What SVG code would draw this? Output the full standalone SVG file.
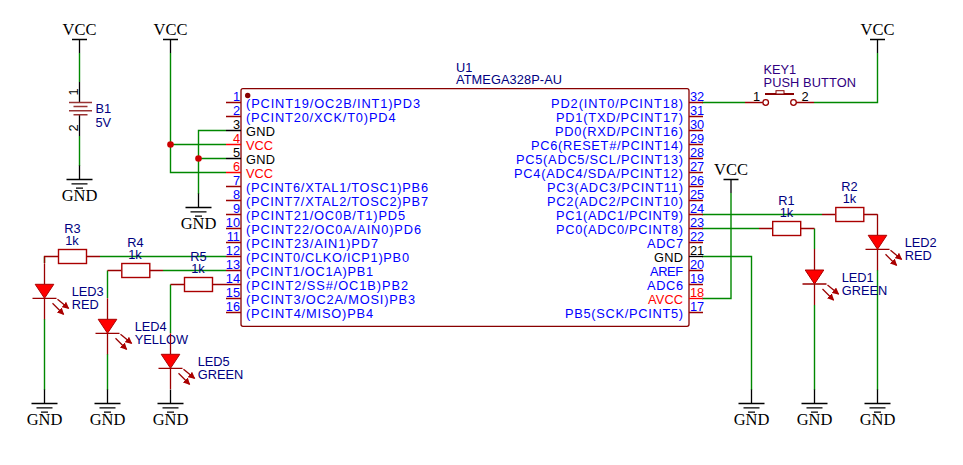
<svg xmlns="http://www.w3.org/2000/svg" width="963" height="465" viewBox="0 0 963 465">
<style>
text{font-family:"Liberation Sans",Arial,sans-serif;font-size:12.8px}
.blue{fill:#0000ff}.blk{fill:#000}.redt{fill:#ff0000}
.lbl{fill:#000080}
.key{fill:#300080}
.pw{font-family:"Liberation Serif","Times New Roman",serif;font-size:16.5px;fill:#000;text-anchor:middle}
.wire{fill:none;stroke:#008800;stroke-width:1.4}
.line{fill:none;stroke:#990000;stroke-width:1.3}
.plate{fill:none;stroke:#993333;stroke-width:1.6}
.box{fill:#fff;stroke:#aa0000;stroke-width:1.4}
.pk{fill:none;stroke:#000;stroke-width:1.3}
.pr{fill:none;stroke:#ff0000;stroke-width:1.3}
.e{text-anchor:end}.m{text-anchor:middle}
.dot{fill:#cc0000}
.led{fill:#ff0000;stroke:#aa0000;stroke-width:1}
.ar{fill:none;stroke:#990000;stroke-width:1.3;marker-end:url(#ah)}
</style>
<defs>
<marker id="ah" markerUnits="userSpaceOnUse" markerWidth="7" markerHeight="7" refX="6" refY="3.500" orient="auto"><path d="M0 0L7 3.500L0 7z" fill="#aa0000"/></marker>
<g id="vcc"><path class="pk" d="M-7.500 0H7.500M0 0V13.500"/><text class="pw" y="-4.500">VCC</text></g>
<g id="gnd"><path class="pk" d="M0 -14V0M-13 0H13M-8 4.300H8M-3.500 8.600H3.500"/><text class="pw" y="21.700">GND</text></g>
<g id="ledsym"><path class="line" d="M0 -35V-14M0 0V21M-12 0H12"/><path class="led" d="M-9.300 -14H9.300L0 0z"/><path class="ar" d="M13 1L24 10"/><path class="ar" d="M8 5L19 16"/></g>
<g id="rs"><rect class="box" x="-14" y="-7" width="28" height="14"/></g>
</defs>
<g id="connectors">
<path class="wire" d="M79.500 53V82M79.500 136V166"/>
<path class="wire" d="M170.500 53V172.500H226M170.500 144.500H226M226 130.500H198.500V194M198.500 158.500H226"/>
<path class="wire" d="M100 256.500H226M44.500 256.500V263M44.500 319V390"/>
<path class="wire" d="M163 270.500H226M107.500 270.500V298M107.500 354V390"/>
<path class="wire" d="M170.500 284.500V333"/>
<path class="wire" d="M702 102.500H745M814 102.500H877.500V53"/>
<path class="wire" d="M702 214.500H822M702 228.500H759M731 193V298.500H702M702 256.500H751.500V390"/>
<path class="wire" d="M814.500 228.500V249M814.500 305V390M877.500 270V390"/>
<path class="line" d="M58 256.500H44.500V263M86 256.500H100M121 270.500H107.500M149 270.500H163M184 284.500H170.500M212 284.500H226M745 102.500H763M796 102.500H814M759 228.500H772M801 228.500H814.500M822 214.500H835M864 214.500H877.500"/>
</g>
<g id="U1">
<rect x="241" y="88.700" width="448" height="237.600" rx="2" fill="#fff" stroke="#880000" stroke-width="1.300"/>
<circle cx="247.700" cy="95.500" r="2.700" fill="#880000"/>
<text x="456" y="72" class="lbl">U1</text>
<text x="456" y="84" class="lbl" textLength="106">ATMEGA328P-AU</text>
<path class="line" d="M226 102.500H241M226 116.500H241M226 186.500H241M226 200.500H241M226 214.500H241M226 228.500H241M226 242.500H241M226 256.500H241M226 270.500H241M226 284.500H241M226 298.500H241M226 312.500H241"/>
<path class="pk" d="M226 130.500H241M226 158.500H241"/><path class="pr" d="M226 144.500H241M226 172.500H241"/>
<path class="line" d="M689 102.500H703M689 116.500H703M689 130.500H703M689 144.500H703M689 158.500H703M689 172.500H703M689 186.500H703M689 200.500H703M689 214.500H703M689 228.500H703M689 242.500H703M689 270.500H703M689 284.500H703M689 312.500H703"/>
<path class="pk" d="M689 256.500H703"/><path class="pr" d="M689 298.500H703"/>
<g class="blue">
<text x="240" y="101" class="e blue">1</text><text x="240" y="115" class="e blue">2</text><text x="240" y="129" class="e blk">3</text><text x="240" y="143" class="e redt">4</text><text x="240" y="157" class="e blk">5</text><text x="240" y="171" class="e redt">6</text><text x="240" y="185" class="e blue">7</text><text x="240" y="199" class="e blue">8</text><text x="240" y="213" class="e blue">9</text><text x="240" y="227" class="e blue">10</text><text x="240" y="241" class="e blue">11</text><text x="240" y="255" class="e blue">12</text><text x="240" y="269" class="e blue">13</text><text x="240" y="283" class="e blue">14</text><text x="240" y="297" class="e blue">15</text><text x="240" y="311" class="e blue">16</text>
<text x="690" y="101">32</text><text x="690" y="115">31</text><text x="690" y="129">30</text><text x="690" y="143">29</text><text x="690" y="157">28</text><text x="690" y="171">27</text><text x="690" y="185">26</text><text x="690" y="199">25</text><text x="690" y="213">24</text><text x="690" y="227">23</text><text x="690" y="241">22</text><text x="690" y="255" class="blk">21</text><text x="690" y="269">20</text><text x="690" y="283">19</text><text x="690" y="297" class="redt">18</text><text x="690" y="311">17</text>
<text x="246" y="108" textLength="174">(PCINT19/OC2B/INT1)PD3</text>
<text x="246" y="122" textLength="149.500">(PCINT20/XCK/T0)PD4</text>
<text x="246" y="136" class="blk" textLength="29">GND</text><text x="246" y="150" class="redt" textLength="27">VCC</text><text x="246" y="164" class="blk" textLength="29">GND</text><text x="246" y="178" class="redt" textLength="27">VCC</text>
<text x="246" y="192" textLength="182">(PCINT6/XTAL1/TOSC1)PB6</text>
<text x="246" y="206" textLength="182">(PCINT7/XTAL2/TOSC2)PB7</text>
<text x="246" y="220" textLength="159">(PCINT21/OC0B/T1)PD5</text>
<text x="246" y="234" textLength="175">(PCINT22/OC0A/AIN0)PD6</text>
<text x="246" y="248" textLength="132">(PCINT23/AIN1)PD7</text>
<text x="246" y="262" textLength="163">(PCINT0/CLKO/ICP1)PB0</text>
<text x="246" y="276" textLength="127">(PCINT1/OC1A)PB1</text>
<text x="246" y="290" textLength="162">(PCINT2/SS#/OC1B)PB2</text>
<text x="246" y="304" textLength="169">(PCINT3/OC2A/MOSI)PB3</text>
<text x="246" y="318" textLength="127">(PCINT4/MISO)PB4</text>
<text x="551" y="108" textLength="132">PD2(INT0/PCINT18)</text>
<text x="556" y="122" textLength="127">PD1(TXD/PCINT17)</text>
<text x="555" y="136" textLength="128">PD0(RXD/PCINT16)</text>
<text x="531" y="150" textLength="152">PC6(RESET#/PCINT14)</text>
<text x="516" y="164" textLength="167">PC5(ADC5/SCL/PCINT13)</text>
<text x="514" y="178" textLength="169">PC4(ADC4/SDA/PCINT12)</text>
<text x="547" y="192" textLength="136">PC3(ADC3/PCINT11)</text>
<text x="547" y="206" textLength="136">PC2(ADC2/PCINT10)</text>
<text x="556" y="220" textLength="127">PC1(ADC1/PCINT9)</text>
<text x="556" y="234" textLength="127">PC0(ADC0/PCINT8)</text>
<text x="647" y="248" textLength="36">ADC7</text>
<text x="654" y="262" class="blk" textLength="29">GND</text>
<text x="650" y="276" textLength="33">AREF</text>
<text x="647" y="290" textLength="36">ADC6</text>
<text x="648" y="304" class="redt" textLength="35">AVCC</text>
<text x="565" y="318" textLength="118">PB5(SCK/PCINT5)</text>
</g>
</g>
<g id="VCC1"><use href="#vcc" x="79.500" y="39.500"/></g>
<g id="VCC2"><use href="#vcc" x="170.500" y="39.500"/></g>
<g id="VCC3"><use href="#vcc" x="877.500" y="39.500"/></g>
<g id="VCC4"><use href="#vcc" x="731" y="179.500"/></g>
<g id="GND1"><use href="#gnd" x="79.500" y="179.500"/></g>
<g id="GND2"><use href="#gnd" x="198.500" y="207.500"/></g>
<g id="GND3"><use href="#gnd" x="44.500" y="403.500"/></g>
<g id="GND4"><use href="#gnd" x="107.500" y="403.500"/></g>
<g id="GND5"><use href="#gnd" x="170.500" y="403.500"/></g>
<g id="GND6"><use href="#gnd" x="751.500" y="403.500"/></g>
<g id="GND7"><use href="#gnd" x="814.500" y="403.500"/></g>
<g id="GND8"><use href="#gnd" x="877.500" y="403.500"/></g>
<g id="B1">
<path class="pk" d="M79.500 82V102.500M79.500 115V136"/>
<path class="plate" d="M69 102.500H92M73.500 106.500H87.500M69 110.700H92M73.500 114.800H87.500"/>
<text class="blk m" transform="translate(78 92) rotate(-90)">1</text>
<text class="blk m" transform="translate(78 128) rotate(-90)">2</text>
<text x="95.500" y="113" class="lbl">B1</text><text x="95.500" y="127" class="lbl">5V</text>
</g>
<g id="KEY1">
<path d="M765 94H794" fill="none" stroke="#880000" stroke-width="2"/><rect x="776" y="90.700" width="8" height="3.300" fill="#fff" stroke="#880000"/><circle cx="765.700" cy="102.500" r="2.800" fill="#fff" stroke="#990000" stroke-width="1.300"/><circle cx="793.500" cy="102.500" r="2.800" fill="#fff" stroke="#990000" stroke-width="1.300"/>
<text x="753" y="100.700" class="blk">1</text><text x="801.500" y="100.700" class="blk">2</text>
<text x="763.500" y="74" class="key">KEY1</text><text x="763.500" y="87" class="key" textLength="92.500">PUSH BUTTON</text>
</g>
<g id="R1"><use href="#rs" x="786.700" y="228.500"/><text x="786.500" y="205" class="m lbl">R1</text><text x="786.500" y="217" class="m lbl">1k</text></g>
<g id="R2"><use href="#rs" x="849.800" y="214.500"/><text x="849.500" y="191" class="m lbl">R2</text><text x="849.500" y="203" class="m lbl">1k</text></g>
<g id="R3"><use href="#rs" x="72.500" y="256.500"/><text x="72.500" y="233" class="m lbl">R3</text><text x="72" y="245" class="m lbl">1k</text></g>
<g id="R4"><use href="#rs" x="135.800" y="270.500"/><text x="135.500" y="247" class="m lbl">R4</text><text x="135" y="259" class="m lbl">1k</text></g>
<g id="R5"><use href="#rs" x="198.500" y="284.500"/><text x="198.500" y="261" class="m lbl">R5</text><text x="198" y="273" class="m lbl">1k</text></g>
<g id="LED1"><use href="#ledsym" x="814.500" y="284"/><text x="841.700" y="282" class="lbl">LED1</text><text x="841.700" y="295" class="lbl">GREEN</text></g>
<g id="LED2"><use href="#ledsym" x="877.500" y="249.300"/><text x="904.700" y="247" class="lbl">LED2</text><text x="904.700" y="260" class="lbl">RED</text></g>
<g id="LED3"><use href="#ledsym" x="44.500" y="298.300"/><text x="71.700" y="296" class="lbl">LED3</text><text x="71.700" y="309" class="lbl">RED</text></g>
<g id="LED4"><use href="#ledsym" x="107.500" y="333.300"/><text x="134.700" y="331" class="lbl">LED4</text><text x="134.700" y="344" class="lbl">YELLOW</text></g>
<g id="LED5"><use href="#ledsym" x="170.500" y="368.300"/><text x="197.700" y="366" class="lbl">LED5</text><text x="197.700" y="379" class="lbl">GREEN</text></g>
<g id="junctions"><circle class="dot" cx="170.500" cy="144.500" r="3.300"/><circle class="dot" cx="198.500" cy="158.500" r="3.300"/></g>
</svg>
